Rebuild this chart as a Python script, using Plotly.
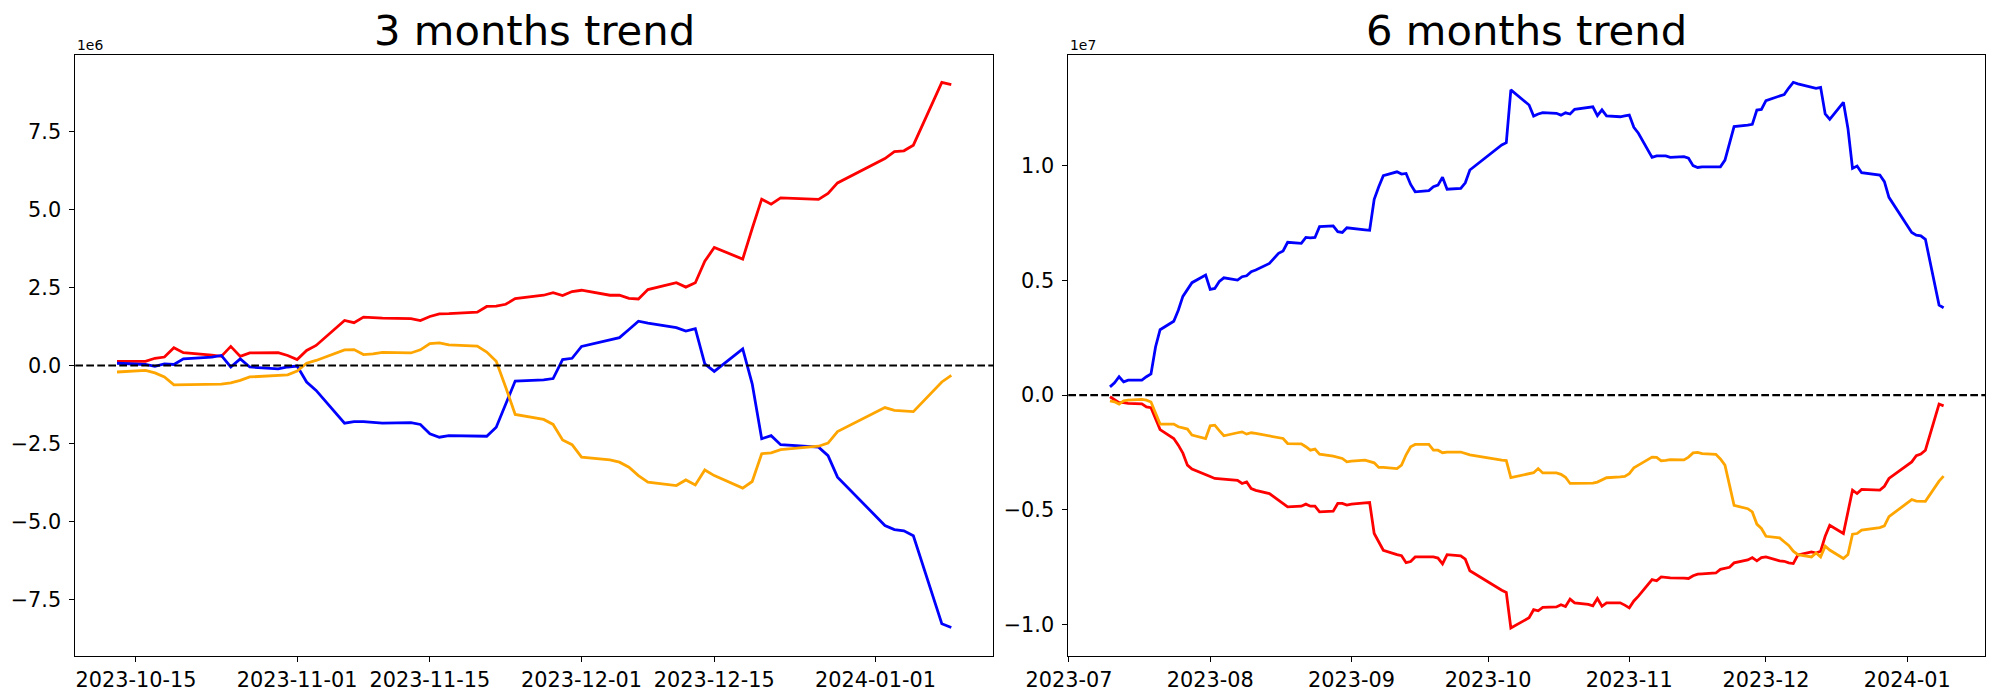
import plotly.graph_objects as go

# ---------------- data (values in millions) ----------------
dates_6m = [
    "2023-07-10", "2023-07-11", "2023-07-12", "2023-07-13", "2023-07-14", "2023-07-17", "2023-07-18", "2023-07-19",
    "2023-07-20", "2023-07-21", "2023-07-24", "2023-07-25", "2023-07-26", "2023-07-27", "2023-07-28", "2023-07-31",
    "2023-08-01", "2023-08-02", "2023-08-03", "2023-08-04", "2023-08-07", "2023-08-08", "2023-08-09", "2023-08-10",
    "2023-08-11", "2023-08-14", "2023-08-16", "2023-08-17", "2023-08-18", "2023-08-21", "2023-08-22", "2023-08-23",
    "2023-08-24", "2023-08-25", "2023-08-28", "2023-08-29", "2023-08-30", "2023-08-31",
    "2023-09-01", "2023-09-04", "2023-09-05", "2023-09-06", "2023-09-07", "2023-09-08", "2023-09-11", "2023-09-12",
    "2023-09-13", "2023-09-14", "2023-09-15", "2023-09-18", "2023-09-19", "2023-09-20", "2023-09-21", "2023-09-22",
    "2023-09-25", "2023-09-26", "2023-09-27",
    "2023-10-04", "2023-10-05", "2023-10-06", "2023-10-10", "2023-10-11", "2023-10-12", "2023-10-13", "2023-10-16",
    "2023-10-17", "2023-10-18", "2023-10-19", "2023-10-20", "2023-10-23", "2023-10-24", "2023-10-25", "2023-10-26",
    "2023-10-27", "2023-10-30", "2023-10-31",
    "2023-11-01", "2023-11-02", "2023-11-03", "2023-11-06", "2023-11-07", "2023-11-08", "2023-11-09", "2023-11-10",
    "2023-11-13", "2023-11-14", "2023-11-15", "2023-11-16", "2023-11-17", "2023-11-20", "2023-11-21", "2023-11-22",
    "2023-11-23", "2023-11-24", "2023-11-27", "2023-11-28", "2023-11-29", "2023-11-30",
    "2023-12-01", "2023-12-04", "2023-12-05", "2023-12-06", "2023-12-07", "2023-12-08", "2023-12-11", "2023-12-12",
    "2023-12-13", "2023-12-14", "2023-12-15", "2023-12-18", "2023-12-19", "2023-12-20", "2023-12-21", "2023-12-22",
    "2023-12-26", "2023-12-27", "2023-12-28",
    "2024-01-02", "2024-01-03", "2024-01-04", "2024-01-05", "2024-01-08", "2024-01-09",
]
dates_3m = dates_6m[dates_6m.index("2023-10-13"):]

red_3m = [
    0.13, 0.13, 0.23, 0.27, 0.57, 0.41, 0.33, 0.29, 0.61, 0.29, 0.40, 0.41, 0.32,
    0.19, 0.48, 0.64, 1.44, 1.37, 1.55, 1.53, 1.52, 1.50, 1.44, 1.57, 1.65, 1.66, 1.71, 1.89, 1.90, 1.96, 2.14,
    2.25, 2.33, 2.24, 2.37,
    2.41, 2.25, 2.25, 2.15, 2.13, 2.43, 2.65, 2.51, 2.65, 3.34, 3.78, 3.41, 4.39, 5.33, 5.17, 5.37, 5.32, 5.51, 5.85,
    6.63, 6.85, 6.88, 7.06, 9.07, 9.00,
]
blue_3m = [
    0.07, 0.03, -0.03, 0.05, 0.03, 0.21, 0.27, 0.32, -0.05, 0.21, -0.05, -0.11, -0.05,
    -0.02, -0.53, -0.80, -1.85, -1.80, -1.80, -1.82, -1.85, -1.83, -1.89, -2.19, -2.30, -2.25, -2.27, -2.27, -1.98,
    -1.24, -0.50, -0.46, -0.42, 0.19, 0.23,
    0.61, 0.82, 0.89, 1.15, 1.42, 1.36, 1.21, 1.10, 1.18, 0.05, -0.19, 0.53, -0.59, -2.35, -2.25, -2.54, -2.62,
    -2.89, -3.58,
    -5.13, -5.26, -5.30, -5.46, -8.28, -8.40,
]
orange_3m = [
    -0.21, -0.16, -0.24, -0.37, -0.62, -0.62, -0.61, -0.60, -0.56, -0.48, -0.37, -0.32, -0.30,
    -0.18, 0.07, 0.16, 0.50, 0.51, 0.35, 0.37, 0.42, 0.40, 0.50, 0.70, 0.72, 0.66, 0.62, 0.43, 0.13, -0.70, -1.57,
    -1.73, -1.89, -2.39, -2.54,
    -2.94, -3.03, -3.10, -3.26, -3.53, -3.74, -3.85, -3.67, -3.83, -3.35, -3.53, -3.93, -3.72, -2.83, -2.80, -2.70,
    -2.59, -2.49, -2.12,
    -1.35, -1.44, -1.45, -1.48, -0.53, -0.32,
]

blue_6m = [
    0.36, 0.54, 0.80, 0.58, 0.65, 0.65, 0.80, 0.92, 2.10, 2.85, 3.22, 3.70, 4.30, 4.58, 4.90, 5.23,
    4.61, 4.65, 4.95, 5.11, 5.01, 5.16, 5.20, 5.38, 5.45, 5.74, 6.18, 6.28, 6.66, 6.61, 6.87, 6.85, 6.87, 7.34,
    7.37, 7.12, 7.09, 7.29,
    7.26, 7.20, 7.18, 8.53, 9.08, 9.56, 9.73, 9.63, 9.66, 9.18, 8.86, 8.91, 9.08, 9.15, 9.49, 8.97, 9.01, 9.25, 9.81,
    10.90, 11.00, 13.30, 12.64, 12.16, 12.25, 12.31, 12.28, 12.20, 12.30, 12.25, 12.45, 12.52, 12.56, 12.18, 12.43,
    12.17, 12.13, 12.17,
    12.20, 11.67, 11.41, 10.36, 10.42, 10.42, 10.42, 10.36, 10.39, 10.32, 10.00, 9.92, 9.95, 9.95, 9.95, 10.24,
    11.00, 11.70, 11.76, 11.80, 12.42, 12.45,
    12.83, 13.03, 13.10, 13.38, 13.63, 13.56, 13.44, 13.37, 13.41, 12.25, 12.02, 12.76, 11.62, 9.88, 9.98, 9.69,
    9.59, 9.30, 8.62,
    7.09, 6.97, 6.94, 6.79, 3.92, 3.81,
]
red_6m = [
    -0.07, -0.19, -0.33, -0.33, -0.36, -0.38, -0.51, -0.55, -1.00, -1.50, -1.89, -2.18, -2.53, -3.05, -3.22, -3.49,
    -3.55, -3.63, -3.65, -3.68, -3.71, -3.85, -3.78, -4.07, -4.15, -4.29, -4.58, -4.70, -4.87, -4.84, -4.75, -4.84,
    -4.84, -5.09, -5.06, -4.72, -4.72, -4.79,
    -4.75, -4.70, -4.68, -6.03, -6.43, -6.76, -6.95, -7.00, -7.30, -7.25, -7.05, -7.05, -7.05, -7.10, -7.35, -6.95,
    -7.00, -7.15, -7.65,
    -8.50, -8.60, -10.15, -9.70, -9.35, -9.40, -9.25, -9.23, -9.13, -9.21, -8.89, -9.05, -9.12, -9.18, -8.86, -9.20,
    -9.05, -9.05, -9.15,
    -9.27, -8.97, -8.76, -8.04, -8.09, -7.92, -7.94, -7.96, -7.97, -7.99, -7.87, -7.80, -7.79, -7.75, -7.59, -7.56,
    -7.50, -7.31, -7.18, -7.08, -7.22, -7.08,
    -7.05, -7.22, -7.24, -7.31, -7.34, -6.97, -6.83, -6.88, -6.80, -6.15, -5.67, -6.03, -5.04, -4.14, -4.29, -4.11,
    -4.14, -3.97, -3.63,
    -2.91, -2.64, -2.57, -2.40, -0.39, -0.47,
]
orange_6m = [
    -0.25, -0.29, -0.39, -0.25, -0.22, -0.19, -0.22, -0.30, -0.78, -1.26, -1.26, -1.38, -1.43, -1.48, -1.74, -1.89,
    -1.34, -1.31, -1.55, -1.77, -1.64, -1.60, -1.70, -1.64, -1.67, -1.79, -1.85, -1.89, -2.11, -2.12, -2.25, -2.40,
    -2.35, -2.57, -2.66, -2.70, -2.76, -2.91,
    -2.88, -2.83, -2.90, -2.95, -3.15, -3.15, -3.20, -3.05, -2.60, -2.25, -2.15, -2.15, -2.40, -2.40, -2.51, -2.48,
    -2.48, -2.55, -2.60,
    -2.83, -2.85, -3.59, -3.40, -3.38, -3.20, -3.39, -3.39, -3.45, -3.58, -3.85, -3.85, -3.84, -3.83, -3.79, -3.71,
    -3.60, -3.56, -3.54,
    -3.42, -3.17, -3.05, -2.70, -2.71, -2.86, -2.84, -2.81, -2.82, -2.70, -2.52, -2.50, -2.55, -2.58, -2.78, -3.05,
    -3.92, -4.80, -4.95, -5.09, -5.62, -5.81,
    -6.15, -6.22, -6.39, -6.55, -6.80, -6.95, -7.05, -6.88, -7.05, -6.58, -6.75, -7.12, -6.95, -6.06, -6.03, -5.88,
    -5.77, -5.70, -5.30,
    -4.55, -4.62, -4.62, -4.63, -3.75, -3.53,
]

xticks_3m = ["2023-10-15", "2023-11-01", "2023-11-15", "2023-12-01", "2023-12-15", "2024-01-01"]
xticks_6m = ["2023-07-01", "2023-08-01", "2023-09-01", "2023-10-01", "2023-11-01", "2023-12-01", "2024-01-01"]
xticklabels_6m = ["2023-07", "2023-08", "2023-09", "2023-10", "2023-11", "2023-12", "2024-01"]
yticks_3m = [-7.5, -5.0, -2.5, 0.0, 2.5, 5.0, 7.5]
yticklabels_3m = ["\u22127.5", "\u22125.0", "\u22122.5", "0.0", "2.5", "5.0", "7.5"]
yticks_6m = [-10, -5, 0, 5, 10]
yticklabels_6m = ["\u22121.0", "\u22120.5", "0.0", "0.5", "1.0"]

titles = ["3 months trend", "6 months trend"]
offsets = ["1e6", "1e7"]

# ---------------- figure ----------------
FONT = "DejaVu Sans"
LW = 2.78
W, H = 2000, 700

fig = go.Figure()

for xa, ya, d, r, b, o in [("x", "y", dates_3m, red_3m, blue_3m, orange_3m),
                           ("x2", "y2", dates_6m, red_6m, blue_6m, orange_6m)]:
    fig.add_trace(go.Scatter(x=d, y=r, mode="lines", line=dict(color="red", width=LW),
                             xaxis=xa, yaxis=ya, showlegend=False))
    fig.add_trace(go.Scatter(x=d, y=b, mode="lines", line=dict(color="blue", width=LW),
                             xaxis=xa, yaxis=ya, showlegend=False))
    fig.add_trace(go.Scatter(x=d, y=o, mode="lines", line=dict(color="orange", width=LW),
                             xaxis=xa, yaxis=ya, showlegend=False))

ydom = [1 - 655.6 / H, 1 - 55 / H]
common_x = dict(type="date", showgrid=False, zeroline=False, showline=True, mirror=True,
                linecolor="black", linewidth=1.1, ticks="outside", ticklen=4.9, tickwidth=1.1,
                tickcolor="black", tickfont=dict(family=FONT, size=20.8, color="black"),
                automargin=False, ticklabelstandoff=0)
common_y = dict(showgrid=False, zeroline=False, showline=True, mirror=True,
                linecolor="black", linewidth=1.1, ticks="outside", ticklen=4.9, tickwidth=1.1,
                tickcolor="black", tickfont=dict(family=FONT, size=20.8, color="black"),
                automargin=False, ticklabelstandoff=4)

fig.update_layout(
    width=W, height=H,
    margin=dict(l=0, r=0, t=0, b=0),
    paper_bgcolor="white", plot_bgcolor="white",
    showlegend=False,
    xaxis=dict(domain=[75.3 / W, 993 / W], anchor="y",
               range=["2023-10-08 14:24", "2024-01-13 09:36"],
               tickvals=xticks_3m, ticktext=xticks_3m, **common_x),
    yaxis=dict(domain=ydom, anchor="x", range=[-9.30, 9.95],
               tickvals=yticks_3m, ticktext=yticklabels_3m, **common_y),
    xaxis2=dict(domain=[1068.3 / W, 1985.3 / W], anchor="y2",
                range=["2023-06-30 20:24", "2024-01-18 03:36"],
                tickvals=xticks_6m, ticktext=xticklabels_6m, **common_x),
    yaxis2=dict(domain=ydom, anchor="x2", range=[-11.35, 14.82],
                tickvals=yticks_6m, ticktext=yticklabels_6m, **common_y),
)

for xa, ya in [("x", "y"), ("x2", "y2")]:
    fig.add_shape(type="line", xref=xa + " domain", yref=ya, x0=0, x1=1, y0=0, y1=0,
                  line=dict(color="black", width=2.08, dash="7.7px,3.3px"), layer="above")

for i, (xa, ya) in enumerate([("x", "y"), ("x2", "y2")]):
    fig.add_annotation(text=titles[i], xref=xa + " domain", yref=ya + " domain", x=0.5, y=1,
                       xanchor="center", yanchor="bottom", yshift=-2, showarrow=False,
                       font=dict(family=FONT, size=41.7, color="black"))
    fig.add_annotation(text=offsets[i], xref=xa + " domain", yref=ya + " domain", x=0, y=1,
                       xanchor="left", yanchor="bottom", yshift=0, showarrow=False,
                       font=dict(family=FONT, size=13.9, color="black"))

fig.write_html("out.html", config={"displayModeBar": False},
               post_script="document.body.style.margin='0';")
